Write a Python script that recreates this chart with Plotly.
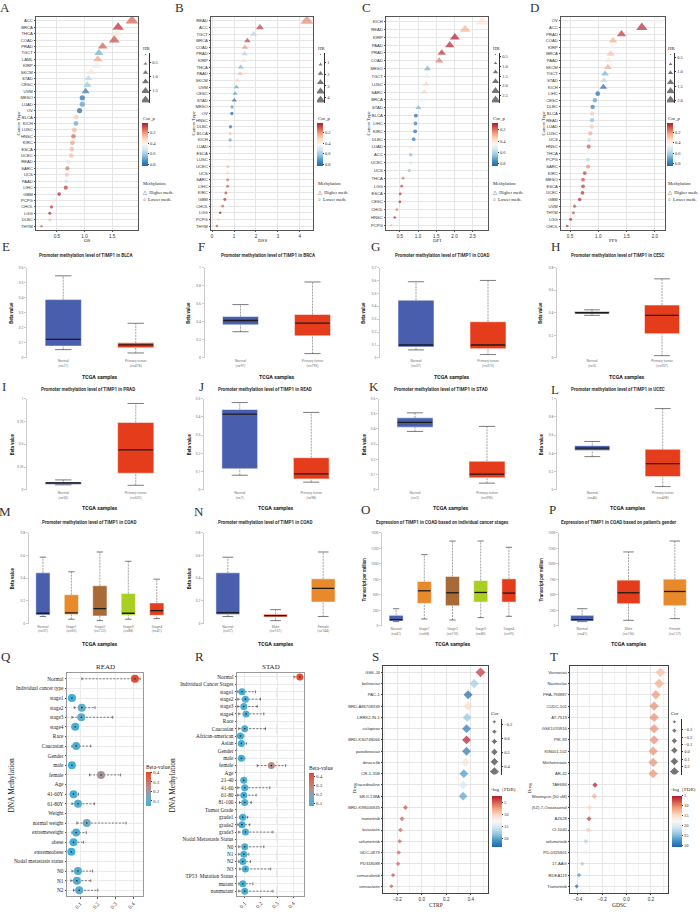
import plotly.graph_objects as go

W, H = 700, 912
SERIF = "Liberation Serif"
SANS = "Liberation Sans"
UAL = "Roboto"

# ================= DATA =================
# A - OS
A_cats = ["ACC","BRCA","THCA","COAD","PRAD","TGCT","LAML","KIRP","SKCM","STAD","CESC","UVM","MESO","LUAD","OV","BLCA","KICH","LUSC","HNSC","KIRC","ESCA","UCEC","READ","SARC","UCS","PAAD","LIHC","GBM","PCPG","CHOL","LGG","DLBC","THYM"]
A_hr = [1.86,1.61,1.58,1.54,1.33,1.26,1.24,1.22,1.12,1.07,1.05,1.02,0.96,0.96,0.91,0.85,0.845,0.815,0.80,0.78,0.77,0.76,0.71,0.69,0.68,0.67,0.66,0.54,0.45,0.40,0.37,0.37,0.22]
A_corp = [0.13,0.05,0.38,0.10,0.12,0.68,0.23,0.48,0.36,0.58,0.64,0.80,0.82,0.72,0.84,0.30,0.70,0.25,0.14,0.22,0.26,0.27,0.52,0.15,0.28,0.54,0.07,0.03,0.36,0.06,0.04,0.27,0.12]
A_meth = ["H","H","H","H","H","H","H","H","H","H","H","H","L","L","L","L","L","L","L","L","L","L","L","L","L","L","L","L","L","L","L","L","L"]
A_leg = [0.23,0.55,0.86,1.18,1.51,1.84]
A_legticks = [0.5,1.0,1.5]
A_xticks = [0.5,1.0,1.5]

# B - DSS
B_cats = ["READ","ACC","TGCT","BRCA","COAD","PRAD","KIRP","THCA","PAAD","SKCM","UVM","CESC","STAD","MESO","OV","HNSC","DLBC","BLCA","KICH","LUAD","ESCA","LUSC","UCEC","UCS","SARC","LIHC","KIRC","GBM","CHOL","LGG","PCPG","THYM"]
B_hr = [4.32,2.18,1.89,1.61,1.50,1.48,1.44,1.31,1.28,1.16,1.11,1.05,1.01,0.91,0.90,0.87,0.84,0.82,0.82,0.82,0.81,0.79,0.72,0.71,0.71,0.71,0.63,0.58,0.48,0.37,0.29,0.22]
B_corp = [0.19,0.07,0.58,0.08,0.20,0.60,0.35,0.67,0.27,0.33,0.70,0.72,0.84,0.72,0.84,0.42,0.80,0.30,0.70,0.33,0.48,0.38,0.27,0.32,0.15,0.12,0.10,0.05,0.12,0.03,0.30,0.10]
B_meth = ["H","H","H","H","H","H","H","H","H","H","H","H","H","L","L","L","L","L","L","L","L","L","L","L","L","L","L","L","L","L","L","L"]
B_leg = [0.32,1.17,1.94,2.71,3.48,4.25]
B_legticks = [1,2,3,4]
B_xticks = [0,1,2,3,4]

# C - DFI
C_cats = ["KICH","READ","KIRP","PAAD","PRAD","COAD","MESO","TGCT","LUSC","SARC","BRCA","STAD","BLCA","LIHC","KIRC","DLBC","LUAD","ACC","UCEC","UCS","THCA","LGG","ESCA","CESC","CHOL","HNSC","PCPG"]
C_hr = [2.76,2.29,2.01,1.87,1.65,1.58,1.26,1.24,1.22,1.17,1.13,1.01,0.94,0.93,0.92,0.88,0.80,0.80,0.80,0.76,0.59,0.55,0.51,0.50,0.42,0.36,0.27]
C_corp = [0.40,0.30,0.09,0.10,0.12,0.22,0.70,0.52,0.36,0.36,0.50,0.70,0.85,0.80,0.85,0.82,0.42,0.68,0.55,0.65,0.22,0.15,0.12,0.11,0.22,0.09,0.30]
C_meth = ["H","H","H","H","H","H","H","H","H","H","H","H","L","L","L","L","L","L","L","L","L","L","L","L","L","L","L"]
C_leg = [0.41,0.85,1.30,1.78,2.27,2.75]
C_legticks = [0.5,1.0,1.5,2.0,2.5]
C_xticks = [0.5,1.0,1.5,2.0,2.5]

# D - PFS
D_cats = ["OV","ACC","PRAD","COAD","KIRP","BRCA","PAAD","SKCM","TGCT","STAD","KICH","LIHC","CESC","DLBC","BLCA","READ","LUAD","LUSC","UCS","HNSC","THCA","PCPG","SARC","KIRC","MESO","ESCA","UCEC","GBM","UVM","THYM","LGG","CHOL"]
D_hr = [2.04,1.77,1.41,1.26,1.24,1.22,1.18,1.17,1.12,1.10,1.09,0.99,0.94,0.90,0.89,0.89,0.886,0.86,0.84,0.83,0.83,0.82,0.82,0.76,0.73,0.73,0.72,0.67,0.58,0.56,0.51,0.45]
D_corp = [0.42,0.05,0.07,0.25,0.42,0.28,0.38,0.25,0.68,0.58,0.85,0.84,0.72,0.80,0.30,0.66,0.30,0.24,0.57,0.12,0.45,0.58,0.20,0.08,0.10,0.07,0.06,0.05,0.10,0.12,0.03,0.06]
D_meth = ["H","H","H","H","H","H","H","H","H","H","H","L","L","L","L","L","L","L","L","L","L","L","L","L","L","L","L","L","L","L","L","L"]
D_leg = [0.41,0.74,1.04,1.37,1.68,2.0]
D_legticks = [0.5,1.0,1.5,2.0]
D_xticks = [0.5,1.0,1.5,2.0]

# E-P box plots: [lower whisker, Q1, median, Q3, upper whisker]
E_cats = ["Normal<br>(n=21)", "Primary tumor<br>(n=418)"]
E_stats = [[0.055,0.079,0.123,0.387,0.545],[0.033,0.068,0.086,0.10,0.23]]
E_yticks = [0,0.1,0.2,0.3,0.4,0.5,0.6]
F_cats = ["Normal<br>(n=97)", "Primary tumor<br>(n=793)"]
F_stats = [[0.29,0.366,0.414,0.458,0.59],[0.048,0.245,0.385,0.48,0.84]]
F_yticks = [0,0.2,0.4,0.6,0.8,1]
G_cats = ["Normal<br>(n=37)", "Primary tumor<br>(n=313)"]
G_stats = [[0.062,0.085,0.10,0.447,0.59],[0.026,0.072,0.10,0.28,0.60]]
G_yticks = [0,0.1,0.2,0.3,0.4,0.5,0.6,0.7]
H_cats = ["Normal<br>(n=3)", "Primary tumor<br>(n=307)"]
H_stats = [[0.377,0.39,0.40,0.41,0.426],[0.02,0.215,0.376,0.468,0.70]]
H_yticks = [0,0.2,0.4,0.6,0.8]
I_cats = ["Normal<br>(n=50)", "Primary tumor<br>(n=502)"]
I_stats = [[0.055,0.058,0.076,0.087,0.109],[0.05,0.182,0.437,0.738,0.946]]
I_yticks = [0,0.25,0.5,0.75,1]
J_cats = ["Normal<br>(n=7)", "Primary tumor<br>(n=98)"]
J_stats = [[0.08,0.115,0.415,0.44,0.478],[0.042,0.06,0.087,0.176,0.424]]
J_yticks = [0,0.1,0.2,0.3,0.4,0.5]
K_cats = ["Normal<br>(n=2)", "Primary tumor<br>(n=395)"]
K_stats = [[0.384,0.412,0.443,0.473,0.506],[0.044,0.079,0.103,0.188,0.417]]
K_yticks = [0,0.1,0.2,0.3,0.4,0.5,0.6]
L_cats = ["Normal<br>(n=46)", "Primary tumor<br>(n=438)"]
L_stats = [[0.364,0.43,0.458,0.484,0.53],[0.036,0.145,0.287,0.444,0.89]]
L_yticks = [0,0.2,0.4,0.6,0.8,1]
M_cats = ["Normal<br>(n=37)","Stage1<br>(n=50)","Stage2<br>(n=122)","Stage3<br>(n=88)","Stage4<br>(n=41)"]
M_stats = [[0.062,0.076,0.091,0.448,0.586],[0.038,0.079,0.094,0.255,0.457],[0.026,0.067,0.132,0.334,0.632],[0.038,0.073,0.091,0.266,0.55],[0.044,0.073,0.114,0.182,0.392]]
M_yticks = [0,0.2,0.4,0.6,0.8]
N_cats = ["Normal<br>(n=37)","Male<br>(n=157)","Female<br>(n=144)"]
N_stats = [[0.062,0.079,0.097,0.448,0.586],[0.026,0.059,0.07,0.082,0.123],[0.062,0.19,0.31,0.395,0.632]]
N_yticks = [0,0.2,0.4,0.6,0.8]
O_cats = ["Normal<br>(n=41)","Stage1<br>(n=68)","Stage2<br>(n=110)","Stage3<br>(n=80)","Stage4<br>(n=39)"]
O_stats = [[70,80,102,171,278],[112,364,567,717,1151],[96,326,535,798,1370],[134,385,540,733,1370],[155,385,530,760,1269]]
O_yticks = [0,250,500,750,1000,1250,1500]
P_cats = ["Normal<br>(n=41)","Male<br>(n=156)","Female<br>(n=127)"]
P_stats = [[70,80,102,171,278],[91,359,535,739,1194],[118,326,556,755,1370]]
P_yticks = [0,250,500,750,1000,1250,1500]

# Q / R DNA methylation by clinical feature
Q_cats = ["Normal","Individual cancer type","stage1","stage2","stage3","stage4","Race","Caucasian","Gender","male","female","Age","41-60Y","61-80Y","Weight","normal weight","extremeweight","obese","extremeobese","Nodal metastasis status","N0","N1","N2"]
Q_mean = [0.41,None,0.053,0.109,0.106,0.072,None,0.077,None,0.053,0.218,None,0.062,0.087,None,0.137,0.077,0.062,0.05,None,0.087,0.081,0.094]
Q_lo = [0.109,None,0.034,0.066,0.053,0.053,None,0.053,None,0.044,0.153,None,0.05,0.053,None,0.081,0.053,0.044,0.04,None,0.053,0.047,0.062]
Q_hi = [0.44,None,0.066,0.184,0.284,0.09,None,0.16,None,0.066,0.329,None,0.09,0.18,None,0.36,0.134,0.119,0.06,None,0.17,0.16,0.2]
R_cats = ["Normal","Individual Cancer Stages","stage1","stage2","stage3","stage4","Race","Caucasian","African-american","Asian","Gender","male","female","Age","21-40","41-60","61-80","81-100","Tumor Grade","grade1","grade2","grade3","Nodal Metastasis Status","N0","N1","N2","N3","TP53  Mutation Status","mutant","nonmutant"]
R_mean = [0.44,None,0.083,0.104,0.094,0.108,None,0.10,0.073,0.079,None,0.079,0.264,None,0.094,0.10,0.094,0.10,None,0.088,0.083,0.104,None,0.10,0.094,0.088,0.104,None,0.088,0.10]
R_lo = [0.404,None,0.057,0.057,0.057,0.063,None,0.063,0.057,0.063,None,0.063,0.177,None,0.078,0.057,0.057,0.067,None,0.067,0.057,0.063,None,0.063,0.063,0.063,0.069,None,0.063,0.063]
R_hi = [0.47,None,0.166,0.197,0.177,0.218,None,0.228,0.094,0.11,None,0.10,0.353,None,0.11,0.255,0.17,0.14,None,0.118,0.131,0.274,None,0.218,0.125,0.135,0.26,None,0.15,0.274]
QR_xticks = [0.1,0.2,0.3,0.4]
QR_ref = 0.3

# S / T drug sensitivity
S_drugs = ["GSK-J4","belinostat","PAC-1","BRD-A86708339","LRRK2-IN-1","ciclopirox","BRD-K30748066","panobinostat","dinaciclib","CR-1-31B","tacedinaline","SR-II-138A","BRD-K99006945","trametinib","lovastatin","selumetinib","GDC-0879","PD318088","vemurafenib","simvastatin"]
S_cor = [0.479,0.427,0.378,0.378,0.37,0.365,0.365,0.365,0.356,0.343,0.337,0.337,-0.133,-0.161,-0.174,-0.18,-0.188,-0.193,-0.234,-0.248]
S_fdr = [3.0,17.5,23.3,10.0,18.0,22.5,2.1,22.5,10.5,20.5,15.0,20.0,4.0,4.5,4.5,4.5,4.5,4.5,4.0,4.0]
S_leg = [-0.24,-0.10,0.04,0.19,0.33,0.47]
S_legticks = [-0.2,0.0,0.2,0.4]
S_xticks = [-0.2,0.0,0.2,0.4]
S_cbticks = [5,10,15,20]
T_drugs = ["Vorinostat","Navitoclax","PHA-793887","CUDC-101","AT-7519","GSK1070916","PIK-93","KIN001-102","Methotrexate","AR-42","TAE684","Bleomycin (50 uM)","(5Z)-7-Oxozeaenol","AZ628","CI-1040","selumetinib","PD-0325901","17-AAG","RDEA119","Trametinib"]
T_cor = [0.278,0.267,0.24,0.226,0.226,0.226,0.226,0.218,0.218,0.218,-0.259,-0.265,-0.305,-0.308,-0.314,-0.335,-0.335,-0.363,-0.39,-0.409]
T_fdr = [12.7,11.4,10.6,10.1,10.1,10.1,10.1,10.3,10.3,10.3,5.0,11.4,14.0,6.3,13.2,22.9,19.0,23.4,27.5,30.6]
T_leg = [-0.41,-0.29,-0.15,-0.02,0.13,0.27]
T_legticks = [-0.3,-0.2,-0.1,0.0,0.1,0.2]
T_xticks = [-0.4,-0.2,0.0,0.2]
T_cbticks = [5,10,15,20,25,30]

# ================= STYLE =================
RDBU = [[0.0, "#2166AC"], [0.125, "#4393C3"], [0.25, "#92C5DE"], [0.375, "#D1E5F0"],
        [0.5, "#F7F7F7"], [0.625, "#FDDBC7"], [0.75, "#F4A582"], [0.875, "#D6604D"], [1.0, "#B2182B"]]
BETA = [[0.0, "#3DB0DA"], [0.3, "#7FA6B9"], [0.55, "#BC8A86"], [1.0, "#E8482B"]]
BLUE, RED, ORANGE, BROWN, GREEN = "#4A5EAE", "#E53D1B", "#E88A2B", "#A86A37", "#A8CF22"
LINE_EW = 1.4  # plotly line-ew glyph spans 1.4 x marker size

fig = go.Figure()
layout = {}
annotations = []
shapes = []
counter = [0]


def merge(*ds):
    out = {}
    for d in ds:
        out.update(d)
    return out


def axes(x0, x1, top, bot, xo, yo):
    counter[0] += 1
    s = "" if counter[0] == 1 else str(counter[0])
    layout["xaxis" + s] = dict(domain=[x0 / W, x1 / W], anchor="y" + s, **xo)
    layout["yaxis" + s] = dict(domain=[1 - bot / H, 1 - top / H], anchor="x" + s, **yo)
    return "x" + s, "y" + s


def ann(text, x, y, size=5, family=SERIF, color="#222", xanchor="center", yanchor="middle", angle=0):
    annotations.append(dict(text=text, x=x / W, y=1 - y / H, xref="paper", yref="paper",
                            showarrow=False, xanchor=xanchor, yanchor=yanchor, textangle=angle,
                            borderpad=0, font=dict(size=size, family=family, color=color)))


def cbar(x, top, length, thick, tickvals, ticktext, size=4.5):
    return dict(x=x / W, xanchor="left", y=1 - top / H, yanchor="top", len=length, lenmode="pixels",
                thickness=thick, thicknessmode="pixels", xpad=0, ypad=0, outlinewidth=0,
                tickvals=tickvals, ticktext=ticktext, ticks="outside", ticklen=1.5, tickwidth=0.5,
                tickcolor="#333", tickfont=dict(size=size, family=SERIF, color="#333"))


def forest(cats, hr, corp, meth, leg_vals, leg_ticks, xticks, xfmt, xrange, x0, x1, xlabel, legx):
    n = len(cats)
    top, bot = 15, 229
    lo, hi = min(leg_vals), max(leg_vals)

    def sz(v, m):
        s = max(1.8, 2.5 + (v - lo) / (hi - lo) * 6.0)
        return s * 1.3 if m == "H" else s

    frame = dict(showline=True, mirror=True, linecolor="#555", linewidth=0.7, showgrid=True,
                 gridcolor="#E6E6E6", gridwidth=0.5, zeroline=False, ticks="outside", ticklen=1.5,
                 tickwidth=0.5, tickcolor="#555")
    xa, ya = axes(x0, x1, top, bot,
                  merge(frame, dict(range=xrange, tickvals=xticks, tickformat=xfmt,
                                    tickfont=dict(size=4.6, family=SANS, color="#333"))),
                  merge(frame, dict(range=[n - 0.4, -0.6], tickvals=list(range(n)), ticktext=cats,
                                    tickfont=dict(size=4.2, family=SANS, color="#333"))))
    fig.add_trace(go.Scatter(
        x=hr, y=list(range(n)), xaxis=xa, yaxis=ya, mode="markers", showlegend=False, hoverinfo="skip",
        marker=dict(symbol=["triangle-up" if m == "H" else "circle" for m in meth],
                    size=[sz(v, m) for v, m in zip(hr, meth)],
                    color=[-p for p in corp], colorscale=RDBU, cmin=-max(corp), cmax=-min(corp),
                    line=dict(width=0),
                    colorbar=cbar(legx, 122, 43, 6, [-0.2, -0.4, -0.6, -0.8], ["0.2", "0.4", "0.6", "0.8"]))))
    d = (hi - lo) * 2.0 / 46
    la, lya = axes(legx, legx + 7, 51, 101, dict(range=[0, 1], visible=False),
                   dict(range=[hi + d, lo - d], side="right", showline=True, linecolor="#333", linewidth=0.5,
                        ticks="outside", ticklen=1.5, tickwidth=0.5, tickcolor="#333", tickvals=leg_ticks,
                        tickformat=xfmt, tickfont=dict(size=4.5, family=SERIF, color="#333"),
                        showgrid=False, zeroline=False))
    fig.add_trace(go.Scatter(x=[0.5] * len(leg_vals), y=leg_vals, xaxis=la, yaxis=lya, mode="markers",
                             showlegend=False, hoverinfo="skip",
                             marker=dict(symbol="triangle-up", size=[sz(v, "H") for v in leg_vals], color="#3d3d3d")))
    ann("HR", legx, 47, 4.8, xanchor="left")
    ann("Cor_p", legx, 117, 4.8, xanchor="left")
    ann("Methylation", legx, 182, 4.6, xanchor="left")
    ann("\u25b3  Higher meth.", legx, 191, 4.6, xanchor="left")
    ann("\u25cb  Lower meth.", legx, 198, 4.6, xanchor="left")
    ann(xlabel, (x0 + x1) / 2, 240, 5)
    ann("Cancer Type", x0 - 18, (top + bot) / 2, 4.8, angle=-90)


def box_panel(cats, stats, colors, yticks, x0, x1, top, bot, title, tx, ty, ytitle, yx, xty):
    n = len(cats)
    xa, ya = axes(x0, x1, top, bot,
                  dict(range=[-0.5, n - 0.5], tickvals=list(range(n)), ticktext=cats, showgrid=False,
                       zeroline=False, showline=False, ticks="",
                       tickfont=dict(size=3.4, family=UAL, color="#777")),
                  dict(range=[0, yticks[-1]], tickvals=yticks, showgrid=False, zeroline=False, showline=True,
                       linecolor="#cccccc", linewidth=0.6, ticks="outside", ticklen=2, tickcolor="#cccccc",
                       tickwidth=0.6, tickfont=dict(size=3.4, family=UAL, color="#777")))
    lo = [s[0] for s in stats]
    q1 = [s[1] for s in stats]
    md = [s[2] for s in stats]
    q3 = [s[3] for s in stats]
    hi = [s[4] for s in stats]
    idx = list(range(n))
    bw_px = (x1 - x0) / n * 0.5
    fig.add_trace(go.Bar(x=idx, y=[b - a for a, b in zip(q1, q3)], base=q1, width=[0.5] * n,
                         xaxis=xa, yaxis=ya, showlegend=False, hoverinfo="skip",
                         marker=dict(color=colors, line=dict(color="rgba(255,255,255,0.5)", width=1))))
    wx, wy = [], []
    for i in idx:
        wx += [i, i, None, i, i, None]
        wy += [lo[i], q1[i], None, q3[i], hi[i], None]
    fig.add_trace(go.Scatter(x=wx, y=wy, mode="lines", xaxis=xa, yaxis=ya, showlegend=False, hoverinfo="skip",
                             line=dict(color="#666", width=0.6, dash="2px,1px")))
    fig.add_trace(go.Scatter(x=idx + idx, y=lo + hi, mode="markers", xaxis=xa, yaxis=ya, showlegend=False,
                             hoverinfo="skip",
                             marker=dict(symbol="line-ew", size=bw_px * 0.45 / LINE_EW,
                                         line=dict(color="#444", width=0.7))))
    fig.add_trace(go.Scatter(x=idx, y=md, mode="markers", xaxis=xa, yaxis=ya, showlegend=False, hoverinfo="skip",
                             marker=dict(symbol="line-ew", size=(bw_px - 1.5) / LINE_EW,
                                         line=dict(color="#1b1b1b", width=1.3))))
    ann("<b>" + title + "</b>", tx, ty, 4.6, family=UAL, color="#333")
    ann("<b>" + ytitle + "</b>", yx, (top + bot) / 2, 4.5, family=UAL, color="#222", angle=-90)
    ann("<b>TCGA samples</b>", (x0 + x1) / 2, xty, 5.3, family=UAL, color="#222")


def meth_panel(cats, mean, lo, hi, x0, x1, top, bot, xrange, title, cbx, cbtop, cblen, ytx, msize):
    n = len(cats)
    frame = dict(showline=True, mirror=True, linecolor="#9a9a9a", linewidth=1, showgrid=True,
                 gridcolor="#EBEBEB", gridwidth=0.5, zeroline=False, ticks="outside", ticklen=1.5,
                 tickwidth=0.5, tickcolor="#555")
    xa, ya = axes(x0, x1, top, bot,
                  merge(frame, dict(range=xrange, tickvals=QR_xticks, tickangle=-45,
                                    tickfont=dict(size=5.5, family=SERIF, color="#222"))),
                  merge(frame, dict(range=[n - 0.4, -0.6], tickvals=list(range(n)), ticktext=cats,
                                    tickfont=dict(size=5.3, family=SERIF, color="#222"))))
    shapes.append(dict(type="line", xref=xa, yref=ya + " domain", x0=QR_ref, x1=QR_ref, y0=0, y1=1,
                       line=dict(color="#AAAAAA", width=0.7, dash="dash"), layer="below"))
    idx = [i for i, m in enumerate(mean) if m is not None]
    mv = [mean[i] for i in idx]
    ex, ey = [], []
    for i in idx:
        ex += [lo[i], hi[i], None]
        ey += [i, i, None]
    fig.add_trace(go.Scatter(x=ex, y=ey, mode="lines", xaxis=xa, yaxis=ya, showlegend=False, hoverinfo="skip",
                             line=dict(color="#222", width=0.6, dash="2px,1.5px")))
    fig.add_trace(go.Scatter(x=[lo[i] for i in idx] + [hi[i] for i in idx], y=idx + idx, mode="markers",
                             xaxis=xa, yaxis=ya, showlegend=False, hoverinfo="skip",
                             marker=dict(symbol="line-ns", size=2.0, line=dict(width=0.6, color="#222"))))
    fig.add_trace(go.Scatter(x=mv, y=idx, mode="markers", xaxis=xa, yaxis=ya, showlegend=False, hoverinfo="skip",
                             marker=dict(size=msize, color=mv, colorscale=BETA, cmin=min(mv), cmax=max(mv),
                                         line=dict(width=0),
                                         colorbar=cbar(cbx, cbtop, cblen, 5, QR_xticks,
                                                       [str(t) for t in QR_xticks], 5))))
    fig.add_trace(go.Scatter(x=mv, y=idx, mode="markers", xaxis=xa, yaxis=ya, showlegend=False, hoverinfo="skip",
                             marker=dict(size=1.6, color="#222")))
    ann(title, (x0 + x1) / 2, top - 6, 7)
    ann("Beta-value", cbx - 1, cbtop - 5, 5.5, xanchor="left")
    ann("DNA Methylation", ytx, 787, 7.5, angle=-90)


def drug_panel(drugs, cor, fdr, leg_vals, leg_ticks, xticks, x0, x1, xrange, xlabel, cbx, cb_ticks, legx, ytx):
    n = len(drugs)
    top, bot = 666.5, 895
    lo, hi = min(leg_vals), max(leg_vals)

    def sz(v):
        return max(2.4, 3.2 + (v - lo) / (hi - lo) * 4.3)

    frame = dict(showline=True, mirror=True, linecolor="#444", linewidth=0.6, showgrid=True,
                 gridcolor="#E6E6E6", gridwidth=0.5, zeroline=False, ticks="outside", ticklen=1.5,
                 tickwidth=0.5, tickcolor="#444")
    xa, ya = axes(x0, x1, top, bot,
                  merge(frame, dict(range=xrange, tickvals=xticks, tickformat=".1f",
                                    tickfont=dict(size=4.6, family=SANS, color="#333"),
                                    minor=dict(dtick=0.1, tick0=0, showgrid=True, gridcolor="#F2F2F2",
                                               gridwidth=0.4))),
                  merge(frame, dict(range=[n - 0.4, -0.6], tickvals=list(range(n)), ticktext=drugs,
                                    tickfont=dict(size=4.2, family=SANS, color="#333"))))
    fig.add_trace(go.Scatter(
        x=cor, y=list(range(n)), xaxis=xa, yaxis=ya, mode="markers", showlegend=False, hoverinfo="skip",
        marker=dict(symbol="diamond", size=[sz(v) for v in cor], color=[-f for f in fdr], colorscale=RDBU,
                    cmin=-max(fdr), cmax=-min(fdr), line=dict(width=0),
                    colorbar=cbar(cbx, 797, 51, 10, [-t for t in cb_ticks], [str(t) for t in cb_ticks]))))
    d = (hi - lo) * 3.0 / 50
    la, lya = axes(legx, legx + 11, 720, 776, dict(range=[0, 1], visible=False),
                   dict(range=[hi + d, lo - d], side="right", showline=True, linecolor="#333", linewidth=0.5,
                        ticks="outside", ticklen=1.5, tickwidth=0.5, tickcolor="#333", tickvals=leg_ticks,
                        tickformat=".1f", tickfont=dict(size=4.5, family=SERIF, color="#333"),
                        showgrid=False, zeroline=False))
    fig.add_trace(go.Scatter(x=[0.4] * len(leg_vals), y=leg_vals, xaxis=la, yaxis=lya, mode="markers",
                             showlegend=False, hoverinfo="skip",
                             marker=dict(symbol="diamond", size=[sz(v) for v in leg_vals], color="#3d3d3d")))
    ann("Cor", legx, 715, 5, xanchor="left")
    ann("-log\uff08FDR)", legx, 791, 5, xanchor="left")
    ann(xlabel, (x0 + x1) / 2, 907, 5.5)
    ann("Drug", ytx, 790, 5, angle=-90)


# ================= BUILD =================
forest(A_cats, A_hr, A_corp, A_meth, A_leg, A_legticks, A_xticks, ".1f", [0.12, 1.97], 36, 138, "OS", 142)
forest(B_cats, B_hr, B_corp, B_meth, B_leg, B_legticks, B_xticks, "d", [-0.05, 4.6], 211, 313, "DSS", 317)
forest(C_cats, C_hr, C_corp, C_meth, C_leg, C_legticks, C_xticks, ".1f", [0.12, 2.92], 386, 488, "DFI", 492)
forest(D_cats, D_hr, D_corp, D_meth, D_leg, D_legticks, D_xticks, ".1f", [0.34, 2.18], 561, 665, "PFS", 667)

r1 = (266.7, 357.5, 255, 377)
r2 = (398.3, 490, 389, 508)
r3 = (533.3, 624.3, 523, 644.5)
r3b = (533.3, 626.7, 523, 644.5)
PM = "Promoter methylation level of TIMP1 in "
box_panel(E_cats, E_stats, [BLUE, RED], E_yticks, 27, 172, r1[0], r1[1], PM + "BLCA", 86, r1[2], "Beta value", 12, r1[3])
box_panel(F_cats, F_stats, [BLUE, RED], F_yticks, 204.5, 348.5, r1[0], r1[1], PM + "BRCA", 268, r1[2], "Beta value", 189, r1[3])
box_panel(G_cats, G_stats, [BLUE, RED], G_yticks, 380, 524, r1[0], r1[1], PM + "COAD", 442, r1[2], "Beta value", 364, r1[3])
box_panel(H_cats, H_stats, [BLUE, RED], H_yticks, 557, 697, r1[0], r1[1], PM + "CESC", 618, r1[2], "Beta value", 541, r1[3])
box_panel(I_cats, I_stats, [BLUE, RED], I_yticks, 27, 172, r2[0], r2[1], PM + "PRAD", 88, r2[2], "Beta value", 12, r2[3])
box_panel(J_cats, J_stats, [BLUE, RED], J_yticks, 204, 347, r2[0], r2[1], PM + "READ", 265, r2[2], "Beta value", 189, r2[3])
box_panel(K_cats, K_stats, [BLUE, RED], K_yticks, 379, 523, r2[0], r2[1], PM + "STAD", 441, r2[2], "Beta value", 364, r2[3])
box_panel(L_cats, L_stats, [BLUE, RED], L_yticks, 557, 698, r2[0], r2[1], PM + "UCEC", 618, r2[2], "Beta value", 541, r2[3])
box_panel(M_cats, M_stats, [BLUE, ORANGE, BROWN, GREEN, RED], M_yticks, 28.7, 171, r3[0], r3[1], PM + "COAD", 89, r3[2], "Beta value", 12, r3[3])
box_panel(N_cats, N_stats, [BLUE, RED, ORANGE], N_yticks, 204, 347, r3[0], r3[1], PM + "COAD", 265, r3[2], "Beta value", 189, r3[3])
box_panel(O_cats, O_stats, [BLUE, ORANGE, BROWN, GREEN, RED], O_yticks, 382, 523, r3b[0], r3b[1],
          "Expression of TIMP1 in COAD based on individual cancer stages", 442, r3b[2], "Transcript per million", 364, r3b[3])
box_panel(P_cats, P_stats, [BLUE, RED, ORANGE], P_yticks, 559, 698, r3b[0], r3b[1],
          "Expression of TIMP1 in COAD based on patient's gender", 618, r3b[2], "Transcript per million", 541, r3b[3])

meth_panel(Q_cats, Q_mean, Q_lo, Q_hi, 67, 143, 674, 898, [0.025, 0.456], "READ", 146, 773, 34, 12, 8)
meth_panel(R_cats, R_mean, R_lo, R_hi, 237, 304, 673.5, 897.5, [0.052, 0.466], "STAD", 309, 774, 33, 173, 7)

drug_panel(S_drugs, S_cor, S_fdr, S_leg, S_legticks, S_xticks, 383, 488, [-0.316, 0.54], "CTRP", 492, S_cbticks, 490, 355)
drug_panel(T_drugs, T_cor, T_fdr, T_leg, T_legticks, T_xticks, 570, 668, [-0.464, 0.34], "GDSC", 672, T_cbticks, 670, 530)

for letter, lx, ly in [("A", 5, 6), ("B", 180, 6), ("C", 366, 6), ("D", 534, 6),
                       ("E", 6, 246), ("F", 201, 246), ("G", 375, 246), ("H", 555, 246),
                       ("I", 4, 386), ("J", 201, 386), ("K", 374, 386), ("L", 555, 389),
                       ("M", 5, 512), ("N", 199, 512), ("O", 365, 510), ("P", 552, 510),
                       ("Q", 6, 657), ("R", 199, 657), ("S", 375, 657), ("T", 554, 657)]:
    ann(letter, lx, ly, 13, color="#333")

fig.update_layout(**layout)
fig.update_layout(annotations=annotations, shapes=shapes, width=W, height=H,
                  margin=dict(l=0, r=0, t=0, b=0), paper_bgcolor="white", plot_bgcolor="white",
                  showlegend=False, font=dict(family=SERIF, size=5))
fig.write_html("out.html")
